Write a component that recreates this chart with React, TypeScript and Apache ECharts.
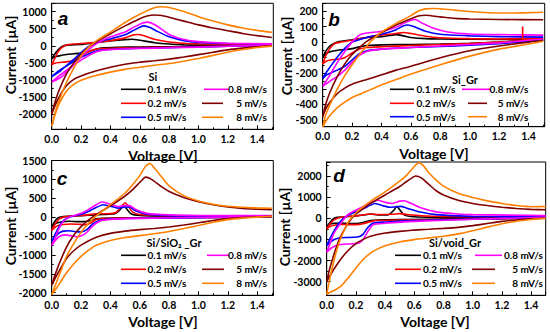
import React, { useEffect, useRef } from "react";
import * as echarts from "echarts";

type P = [number, number][];

// ---------- Panel a : Si ----------
const si01Down: P = [[1.5,0],[1.2,-10],[1.0,-20],[0.8,-30],[0.6,-35],[0.45,-45],[0.35,-60],[0.3,-100],[0.25,-170],[0.2,-215],[0.15,-235],[0.1,-255],[0.05,-295],[0.02,-330],[0,-380]];
const si01Up: P = [[0,-380],[0.02,-250],[0.05,-90],[0.08,0],[0.12,25],[0.2,40],[0.3,90],[0.4,140],[0.5,180],[0.55,190],[0.6,160],[0.7,90],[0.8,50],[0.9,30],[1.0,20],[1.2,15],[1.5,10]];
const si02Down: P = [[1.5,10],[1.2,-10],[1.0,-25],[0.8,-40],[0.6,-50],[0.45,-65],[0.35,-80],[0.3,-100],[0.27,-140],[0.23,-230],[0.2,-320],[0.15,-420],[0.1,-470],[0.05,-490],[0.02,-510],[0,-550]];
const si02Up: P = [[0,-550],[0.02,-380],[0.04,-200],[0.07,-50],[0.1,20],[0.15,50],[0.2,65],[0.3,100],[0.4,150],[0.5,230],[0.56,320],[0.59,330],[0.63,290],[0.7,190],[0.8,110],[0.9,75],[1.0,60],[1.2,45],[1.5,40]];
const si05Down: P = [[1.5,20],[1.2,-15],[1.0,-35],[0.8,-55],[0.6,-75],[0.45,-95],[0.35,-120],[0.3,-160],[0.25,-240],[0.2,-340],[0.15,-460],[0.1,-590],[0.05,-730],[0.02,-830],[0,-900]];
const si05Up: P = [[0,-900],[0.03,-820],[0.06,-730],[0.1,-580],[0.15,-400],[0.2,-200],[0.25,-30],[0.3,90],[0.35,150],[0.4,200],[0.5,320],[0.55,430],[0.6,540],[0.63,580],[0.67,530],[0.72,420],[0.8,260],[0.9,150],[1.0,100],[1.2,65],[1.5,50]];
const si08Down: P = [[1.5,25],[1.2,-15],[1.0,-40],[0.8,-60],[0.6,-80],[0.45,-100],[0.35,-130],[0.3,-180],[0.25,-290],[0.2,-420],[0.15,-560],[0.1,-720],[0.05,-880],[0.02,-990],[0,-1060]];
const si08Up: P = [[0,-1060],[0.03,-1000],[0.07,-900],[0.1,-780],[0.15,-560],[0.2,-330],[0.25,-120],[0.3,50],[0.35,170],[0.4,260],[0.5,400],[0.55,520],[0.6,630],[0.65,690],[0.7,620],[0.75,480],[0.8,330],[0.9,180],[1.0,120],[1.2,75],[1.5,60]];
const si5Down: P = [[1.5,0],[1.4,-30],[1.3,-70],[1.2,-120],[1.1,-190],[1.0,-260],[0.9,-330],[0.8,-390],[0.7,-440],[0.6,-480],[0.5,-540],[0.4,-630],[0.3,-740],[0.2,-880],[0.15,-980],[0.1,-1170],[0.05,-1500],[0.02,-1780],[0,-2000]];
const si5Up: P = [[0,-2000],[0.02,-1680],[0.05,-1300],[0.1,-830],[0.15,-500],[0.2,-240],[0.25,-50],[0.3,110],[0.4,350],[0.5,580],[0.6,790],[0.65,870],[0.7,900],[0.75,885],[0.8,830],[0.9,720],[1.0,610],[1.1,520],[1.2,440],[1.3,360],[1.4,295],[1.5,240]];
const si8Down: P = [[1.5,-10],[1.4,-50],[1.3,-110],[1.2,-190],[1.1,-280],[1.0,-370],[0.9,-450],[0.8,-520],[0.7,-570],[0.6,-630],[0.5,-690],[0.4,-770],[0.3,-870],[0.2,-1010],[0.15,-1130],[0.1,-1330],[0.05,-1700],[0.02,-2050],[0,-2350]];
const si8Up: P = [[0,-2350],[0.02,-2000],[0.05,-1600],[0.1,-1080],[0.15,-650],[0.2,-300],[0.25,-50],[0.3,130],[0.4,400],[0.5,680],[0.6,920],[0.7,1110],[0.75,1140],[0.8,1120],[0.9,1000],[1.0,850],[1.1,720],[1.2,610],[1.3,520],[1.4,450],[1.5,390]];

// ---------- Panel b : Si_Gr ----------
const gr01Down: P = [[1.5,15],[1.2,0],[1.0,-8],[0.8,-12],[0.6,-15],[0.4,-18],[0.3,-22],[0.25,-30],[0.2,-42],[0.15,-48],[0.1,-52],[0.05,-62],[0.02,-75],[0,-100]];
const gr01Up: P = [[0,-100],[0.02,-60],[0.05,-25],[0.1,0],[0.15,8],[0.2,15],[0.3,30],[0.4,35],[0.45,42],[0.5,48],[0.55,40],[0.6,30],[0.7,22],[0.8,20],[1.0,18],[1.5,15]];
const gr02Down: P = [[1.5,25],[1.3,5],[1.2,0],[1.0,-10],[0.8,-15],[0.6,-22],[0.4,-30],[0.3,-35],[0.25,-45],[0.2,-70],[0.15,-100],[0.1,-110],[0.05,-115],[0.02,-125],[0,-140]];
const gr02Up: P = [[0,-140],[0.02,-90],[0.05,-40],[0.08,-10],[0.12,0],[0.2,12],[0.3,30],[0.4,45],[0.5,55],[0.55,62],[0.6,55],[0.7,38],[0.8,28],[1.0,22],[1.2,20],[1.35,22],[1.5,25]];
const gr02Spike: P = [[1.36,19],[1.36,100]];
const gr05Down: P = [[1.5,10],[1.2,-10],[1.0,-20],[0.8,-28],[0.6,-35],[0.4,-45],[0.3,-55],[0.25,-75],[0.2,-115],[0.15,-155],[0.1,-180],[0.05,-200],[0.02,-215],[0,-235]];
const gr05Up: P = [[0,-235],[0.02,-200],[0.05,-160],[0.1,-95],[0.15,-40],[0.2,0],[0.3,30],[0.4,50],[0.5,80],[0.55,105],[0.58,110],[0.62,100],[0.7,70],[0.8,50],[1.0,40],[1.2,35],[1.5,32]];
const gr08Down: P = [[1.5,20],[1.2,-5],[1.0,-15],[0.8,-25],[0.6,-35],[0.4,-45],[0.3,-60],[0.25,-85],[0.2,-130],[0.15,-180],[0.1,-220],[0.05,-250],[0.02,-270],[0,-285]];
const gr08Up: P = [[0,-285],[0.02,-255],[0.05,-210],[0.1,-130],[0.15,-60],[0.2,0],[0.25,45],[0.3,58],[0.4,70],[0.5,95],[0.55,120],[0.6,140],[0.63,145],[0.67,125],[0.75,90],[0.85,65],[1.0,52],[1.2,48],[1.5,45]];
const gr5Down: P = [[1.5,10],[1.4,0],[1.2,-25],[1.0,-55],[0.8,-100],[0.6,-155],[0.5,-180],[0.4,-210],[0.3,-240],[0.2,-270],[0.15,-295],[0.1,-330],[0.05,-385],[0.02,-430],[0,-480]];
const gr5Up: P = [[0,-480],[0.02,-400],[0.05,-320],[0.1,-220],[0.15,-140],[0.2,-80],[0.25,-35],[0.3,5],[0.4,60],[0.5,110],[0.6,150],[0.65,168],[0.7,172],[0.8,162],[0.9,152],[1.0,148],[1.2,145],[1.5,143]];
const gr8Down: P = [[1.5,5],[1.4,-12],[1.2,-45],[1.0,-90],[0.8,-145],[0.6,-205],[0.5,-240],[0.4,-275],[0.3,-315],[0.2,-355],[0.15,-385],[0.1,-420],[0.05,-470],[0.02,-510],[0,-545]];
const gr8Up: P = [[0,-545],[0.02,-470],[0.05,-400],[0.1,-300],[0.15,-215],[0.2,-145],[0.25,-80],[0.3,-25],[0.35,25],[0.4,65],[0.5,120],[0.6,170],[0.65,200],[0.7,213],[0.75,216],[0.8,214],[0.9,205],[1.0,196],[1.1,190],[1.2,187],[1.3,187],[1.4,189],[1.5,192]];

// ---------- Panel c : Si/SiO2_Gr ----------
const so01Down: P = [[1.5,5],[1.2,-5],[1.0,-10],[0.7,-15],[0.5,-20],[0.35,-30],[0.3,-45],[0.27,-90],[0.23,-115],[0.18,-120],[0.12,-110],[0.07,-120],[0.04,-150],[0.02,-190],[0,-250]];
const so01Up: P = [[0,-250],[0.02,-120],[0.04,-30],[0.07,10],[0.15,30],[0.25,50],[0.35,70],[0.43,90],[0.46,170],[0.49,300],[0.51,220],[0.54,90],[0.6,45],[0.8,25],[1.0,20],[1.5,15]];
const so02Down: P = [[1.5,10],[1.2,-5],[1.0,-10],[0.7,-18],[0.5,-25],[0.35,-40],[0.3,-70],[0.27,-150],[0.23,-200],[0.18,-190],[0.13,-180],[0.08,-195],[0.04,-230],[0.02,-280],[0,-350]];
const so02Up: P = [[0,-350],[0.02,-200],[0.05,-50],[0.08,0],[0.15,30],[0.25,60],[0.3,90],[0.38,90],[0.44,130],[0.48,300],[0.5,380],[0.52,300],[0.55,140],[0.6,70],[0.8,35],[1.0,25],[1.5,20]];
const so05Down: P = [[1.5,10],[1.2,-5],[1.0,-12],[0.7,-25],[0.5,-35],[0.4,-50],[0.33,-80],[0.28,-180],[0.24,-330],[0.2,-390],[0.16,-385],[0.12,-360],[0.08,-370],[0.05,-420],[0.02,-540],[0,-650]];
const so05Up: P = [[0,-650],[0.02,-480],[0.05,-250],[0.08,-90],[0.12,0],[0.2,80],[0.25,150],[0.3,250],[0.35,330],[0.4,290],[0.45,240],[0.5,265],[0.53,270],[0.57,170],[0.65,80],[0.8,40],[1.0,30],[1.5,28]];
const so08Down: P = [[1.5,20],[1.2,0],[1.0,-10],[0.7,-25],[0.5,-40],[0.4,-60],[0.33,-100],[0.28,-230],[0.24,-400],[0.2,-500],[0.17,-520],[0.13,-490],[0.09,-470],[0.05,-520],[0.02,-640],[0,-750]];
const so08Up: P = [[0,-750],[0.02,-580],[0.05,-300],[0.08,-110],[0.12,0],[0.2,100],[0.25,200],[0.3,320],[0.34,400],[0.38,370],[0.45,280],[0.5,310],[0.53,305],[0.58,190],[0.65,100],[0.8,60],[1.0,45],[1.5,40]];
const so5Down: P = [[1.5,20],[1.3,-10],[1.2,-40],[1.1,-90],[1.0,-150],[0.9,-210],[0.8,-260],[0.7,-300],[0.6,-330],[0.5,-370],[0.4,-430],[0.3,-540],[0.2,-740],[0.15,-890],[0.1,-1100],[0.05,-1430],[0.02,-1650],[0,-1800]];
const so5Up: P = [[0,-1800],[0.03,-1450],[0.06,-1150],[0.1,-800],[0.15,-480],[0.2,-250],[0.25,-80],[0.3,60],[0.4,300],[0.5,560],[0.55,720],[0.6,920],[0.64,1060],[0.68,1000],[0.75,800],[0.8,680],[0.9,520],[1.0,410],[1.1,330],[1.2,270],[1.3,230],[1.4,210],[1.5,200]];
const so8Down: P = [[1.5,20],[1.4,0],[1.3,-25],[1.2,-65],[1.1,-135],[1.0,-220],[0.9,-300],[0.8,-380],[0.7,-440],[0.6,-490],[0.5,-540],[0.4,-620],[0.3,-750],[0.25,-880],[0.2,-1040],[0.15,-1240],[0.1,-1480],[0.05,-1780],[0.02,-1950],[0,-2050]];
const so8Up: P = [[0,-2050],[0.03,-1750],[0.06,-1450],[0.1,-1050],[0.15,-700],[0.2,-400],[0.25,-170],[0.3,20],[0.35,180],[0.4,330],[0.5,640],[0.55,850],[0.6,1100],[0.64,1350],[0.67,1420],[0.7,1300],[0.75,1060],[0.8,830],[0.9,570],[1.0,430],[1.1,340],[1.2,290],[1.3,260],[1.4,245],[1.5,235]];

// ---------- Panel d : Si/void_Gr ----------
const vo01Down: P = [[1.5,0],[1.0,-30],[0.5,-60],[0.35,-80],[0.3,-110],[0.25,-200],[0.2,-250],[0.15,-250],[0.1,-225],[0.05,-235],[0.02,-290],[0,-400]];
const vo01Up: P = [[0,-400],[0.02,-220],[0.04,-60],[0.07,40],[0.15,80],[0.25,150],[0.3,200],[0.35,160],[0.42,160],[0.46,380],[0.48,560],[0.5,400],[0.53,160],[0.6,70],[0.8,40],[1.0,30],[1.5,20]];
const vo02Down: P = [[1.5,20],[1.0,-50],[0.5,-80],[0.35,-110],[0.3,-160],[0.25,-260],[0.2,-300],[0.15,-300],[0.1,-290],[0.05,-330],[0.02,-400],[0,-500]];
const vo02Up: P = [[0,-500],[0.02,-300],[0.05,-80],[0.1,50],[0.2,110],[0.3,200],[0.35,180],[0.45,190],[0.5,220],[0.55,180],[0.65,120],[0.8,80],[1.0,70],[1.5,60]];
const vo05Down: P = [[1.5,30],[1.0,-40],[0.6,-110],[0.4,-180],[0.32,-230],[0.28,-450],[0.25,-750],[0.22,-880],[0.18,-900],[0.14,-910],[0.1,-920],[0.06,-980],[0.03,-1100],[0,-1300]];
const vo05Up: P = [[0,-1300],[0.02,-1000],[0.05,-600],[0.1,-100],[0.15,150],[0.25,450],[0.3,620],[0.33,700],[0.38,600],[0.43,520],[0.48,540],[0.51,560],[0.56,450],[0.65,280],[0.75,170],[0.9,110],[1.0,90],[1.5,70]];
const vo08Down: P = [[1.5,50],[1.0,-50],[0.6,-150],[0.4,-240],[0.32,-300],[0.28,-650],[0.25,-1000],[0.22,-1170],[0.18,-1210],[0.14,-1220],[0.1,-1240],[0.06,-1300],[0.03,-1420],[0,-1600]];
const vo08Up: P = [[0,-1600],[0.02,-1250],[0.05,-700],[0.1,-200],[0.15,200],[0.25,550],[0.3,720],[0.35,850],[0.4,750],[0.45,700],[0.5,810],[0.53,830],[0.58,700],[0.65,480],[0.75,300],[0.9,200],[1.0,170],[1.5,130]];
const vo5Down: P = [[1.5,0],[1.4,-30],[1.3,-80],[1.2,-150],[1.1,-250],[1.0,-350],[0.9,-430],[0.8,-480],[0.7,-520],[0.6,-560],[0.5,-620],[0.4,-700],[0.3,-850],[0.25,-1000],[0.2,-1200],[0.15,-1500],[0.1,-1900],[0.05,-2400],[0.02,-2750],[0,-3000]];
const vo5Up: P = [[0,-3000],[0.02,-2400],[0.05,-1700],[0.08,-1100],[0.1,-800],[0.15,-200],[0.2,200],[0.25,450],[0.3,700],[0.4,1100],[0.5,1500],[0.55,1750],[0.61,2000],[0.65,1900],[0.7,1600],[0.75,1300],[0.8,1100],[0.9,850],[1.0,700],[1.1,600],[1.2,520],[1.3,460],[1.4,420],[1.5,400]];
const vo8Down: P = [[1.5,0],[1.4,-60],[1.3,-140],[1.2,-260],[1.1,-420],[1.0,-590],[0.9,-740],[0.8,-850],[0.7,-930],[0.6,-1010],[0.5,-1120],[0.4,-1300],[0.35,-1450],[0.3,-1650],[0.25,-1950],[0.2,-2350],[0.15,-2800],[0.1,-3200],[0.05,-3420],[0.02,-3520],[0,-3600]];
const vo8Up: P = [[0,-3600],[0.02,-2900],[0.05,-2000],[0.08,-1250],[0.1,-880],[0.15,-150],[0.2,250],[0.25,550],[0.3,800],[0.4,1250],[0.5,1750],[0.55,2050],[0.6,2450],[0.63,2620],[0.66,2500],[0.7,2150],[0.75,1800],[0.8,1520],[0.9,1180],[1.0,980],[1.1,820],[1.2,700],[1.3,600],[1.4,545],[1.5,560]];

const RATES = ["0.1 mV/s", "0.2 mV/s", "0.5 mV/s", "0.8 mV/s", "5 mV/s", "8 mV/s"];
const COLORS = ["#000000", "#ff0000", "#0000ff", "#ff00ff", "#800000", "#ff8000"];
const X_TICKS_STEP = 0.2;

const PANELS = [
  {
    letter: "a", title: "Si",
    loops: [[si01Down, si01Up], [si02Down, si02Up], [si05Down, si05Up], [si08Down, si08Up], [si5Down, si5Up], [si8Down, si8Up]],
    grid: { left: 51.7, top: 3.3, width: 221.6, height: 126 },
    xMax: 1.51, yMin: -2440, yMax: 1240, yStep: 500, showYMax: false,
    letterPos: [63, 18], yNamePos: [10, 55], xNamePos: [163, 155],
    leg: { titleX: 153, titleY: 76, rows: [89.3, 103.3, 117.3], c1x0: 121, c1x1: 146, c1t: 147.5, c2mag: [204, 228], c2x: [202, 223], c2r: 267 },
  },
  {
    letter: "b", title: "Si_Gr",
    loops: [[gr01Down, gr01Up], [gr02Down, gr02Up], [gr05Down, gr05Up], [gr08Down, gr08Up], [gr5Down, gr5Up], [gr8Down, gr8Up]],
    grid: { left: 322.7, top: 3.3, width: 222, height: 123.4 },
    xMax: 1.51, yMin: -543, yMax: 249, yStep: 100, showYMax: false,
    letterPos: [334, 19], yNamePos: [286, 56], xNamePos: [434, 153],
    leg: { titleX: 465, titleY: 79, rows: [89.3, 103.3, 116.7], c1x0: 390, c1x1: 414, c1t: 416.5, c2mag: [462, 490], c2x: [468, 487], c2r: 528.5 },
  },
  {
    letter: "c", title: "Si/SiO\u2082 _Gr",
    loops: [[so01Down, so01Up], [so02Down, so02Up], [so05Down, so05Up], [so08Down, so08Up], [so5Down, so5Up], [so8Down, so8Up]],
    grid: { left: 51.7, top: 160.5, width: 221.6, height: 134.8 },
    xMax: 1.51, yMin: -2070, yMax: 1500, yStep: 500, showYMax: true,
    letterPos: [62, 178], yNamePos: [10, 226], xNamePos: [163, 321],
    leg: { titleX: 174, titleY: 242, rows: [255.3, 269.3, 283.3], c1x0: 121, c1x1: 146, c1t: 147.5, c2mag: [207, 229], c2x: [202, 224], c2r: 267 },
  },
  {
    letter: "d", title: "Si/void_Gr",
    loops: [[vo01Down, vo01Up], [vo02Down, vo02Up], [vo05Down, vo05Up], [vo08Down, vo08Up], [vo5Down, vo5Up], [vo8Down, vo8Up]],
    grid: { left: 326.7, top: 162, width: 219, height: 133.3 },
    xMax: 1.5, yMin: -3645, yMax: 2660, yStep: 1000, showYMax: false,
    letterPos: [339, 175], yNamePos: [284, 227], xNamePos: [435, 321],
    leg: { titleX: 455, titleY: 242, rows: [255.3, 269.3, 283.3], c1x0: 395, c1x1: 421, c1t: 423, c2mag: [475, 502], c2x: [472, 495], c2r: 543 },
  },
];

const FONT = "Lato, 'DejaVu Sans', sans-serif";

function buildOption() {
  const grids: any[] = [];
  const xAxes: any[] = [];
  const yAxes: any[] = [];
  const series: any[] = [];
  const graphics: any[] = [];

  const txt = (x: number, y: number, text: string, size: number, align = "center", extra: any = {}) => ({
    type: "text", x, y, z: 100, silent: true, ...extra,
    style: {
      text, fill: "#000", font: `bold ${size}px ${FONT}`,
      align, verticalAlign: "middle", textAlign: align, textVerticalAlign: "middle",
    },
  });

  PANELS.forEach((p, pi) => {
    grids.push({ ...p.grid, show: true, borderColor: "#000", borderWidth: 1, backgroundColor: "transparent" });
    xAxes.push({
      gridIndex: pi, type: "value", min: 0, max: p.xMax, interval: X_TICKS_STEP,
      axisLine: { show: true, onZero: false, lineStyle: { color: "#000", width: 1 } },
      axisTick: { show: true, inside: true, length: 4, lineStyle: { color: "#000" } },
      minorTick: { show: true, splitNumber: 2, length: 2, lineStyle: { color: "#000" } },
      splitLine: { show: false },
      axisLabel: {
        color: "#000", fontWeight: "bold", fontFamily: FONT, fontSize: 10.5, margin: 4,
        showMaxLabel: false, formatter: (v: number) => v.toFixed(1),
      },
    });
    yAxes.push({
      gridIndex: pi, type: "value", min: p.yMin, max: p.yMax, splitNumber: 7,
      minInterval: p.yStep, maxInterval: p.yStep,
      axisLine: { show: true, onZero: false, lineStyle: { color: "#000", width: 1 } },
      axisTick: { show: true, inside: true, length: 4, lineStyle: { color: "#000" } },
      minorTick: { show: true, splitNumber: 2, length: 2, lineStyle: { color: "#000" } },
      splitLine: { show: false },
      axisLabel: {
        color: "#000", fontWeight: "bold", fontFamily: FONT, fontSize: 10.5, margin: 5,
        showMinLabel: false, showMaxLabel: p.showYMax,
        formatter: (v: number) => String(Math.round(v)),
      },
    });
    p.loops.forEach(([down, up], i) => {
      series.push({
        type: "line", name: RATES[i], xAxisIndex: pi, yAxisIndex: pi,
        data: [...down, ...up.slice(1)], showSymbol: false, smooth: 0.2, silent: true,
        lineStyle: { color: COLORS[i], width: 1.6 }, itemStyle: { color: COLORS[i] },
      });
    });
    if (pi === 1) {
      series.push({
        type: "line", name: "spike", xAxisIndex: pi, yAxisIndex: pi, data: gr02Spike,
        showSymbol: false, silent: true, lineStyle: { color: COLORS[1], width: 1.6 },
      });
    }

    graphics.push({
      type: "text", x: p.letterPos[0], y: p.letterPos[1], z: 100, silent: true,
      style: { text: p.letter, fill: "#000", font: "italic bold 19px 'Liberation Sans', Arial, sans-serif",
        align: "center", verticalAlign: "middle", textAlign: "center", textVerticalAlign: "middle" },
    });
    graphics.push(txt(p.yNamePos[0], p.yNamePos[1], "Current [\u00b5A]", 14, "center", { rotation: Math.PI / 2 }));
    graphics.push(txt(p.xNamePos[0], p.xNamePos[1], "Voltage [V]", 14, "center"));

    const L = p.leg;
    graphics.push(txt(L.titleX, L.titleY, p.title, 11, "center"));
    [0, 1, 2].forEach((r) => {
      const y = L.rows[r];
      graphics.push({ type: "line", z: 100, silent: true, shape: { x1: L.c1x0, y1: y, x2: L.c1x1, y2: y }, style: { stroke: COLORS[r], lineWidth: 1.6 } });
      graphics.push(txt(L.c1t, y, RATES[r], 10, "left"));
      const ci = r + 3;
      const seg = ci === 3 ? L.c2mag : L.c2x;
      graphics.push({ type: "line", z: 100, silent: true, shape: { x1: seg[0], y1: y, x2: seg[1], y2: y }, style: { stroke: COLORS[ci], lineWidth: 1.6 } });
      graphics.push(txt(L.c2r, y, RATES[ci], 10, "right"));
    });
  });

  return {
    animation: false,
    backgroundColor: "#ffffff",
    grid: grids, xAxis: xAxes, yAxis: yAxes, series, graphic: graphics,
  };
}

export default function App() {
  const ref = useRef<HTMLDivElement>(null);
  useEffect(() => {
    if (!ref.current) return;
    const chart = echarts.init(ref.current, undefined, { renderer: "svg" });
    chart.setOption(buildOption() as any);
    return () => chart.dispose();
  }, []);
  return <div ref={ref} style={{ position: "absolute", left: 0, top: 0, width: 550, height: 332 }} />;
}
